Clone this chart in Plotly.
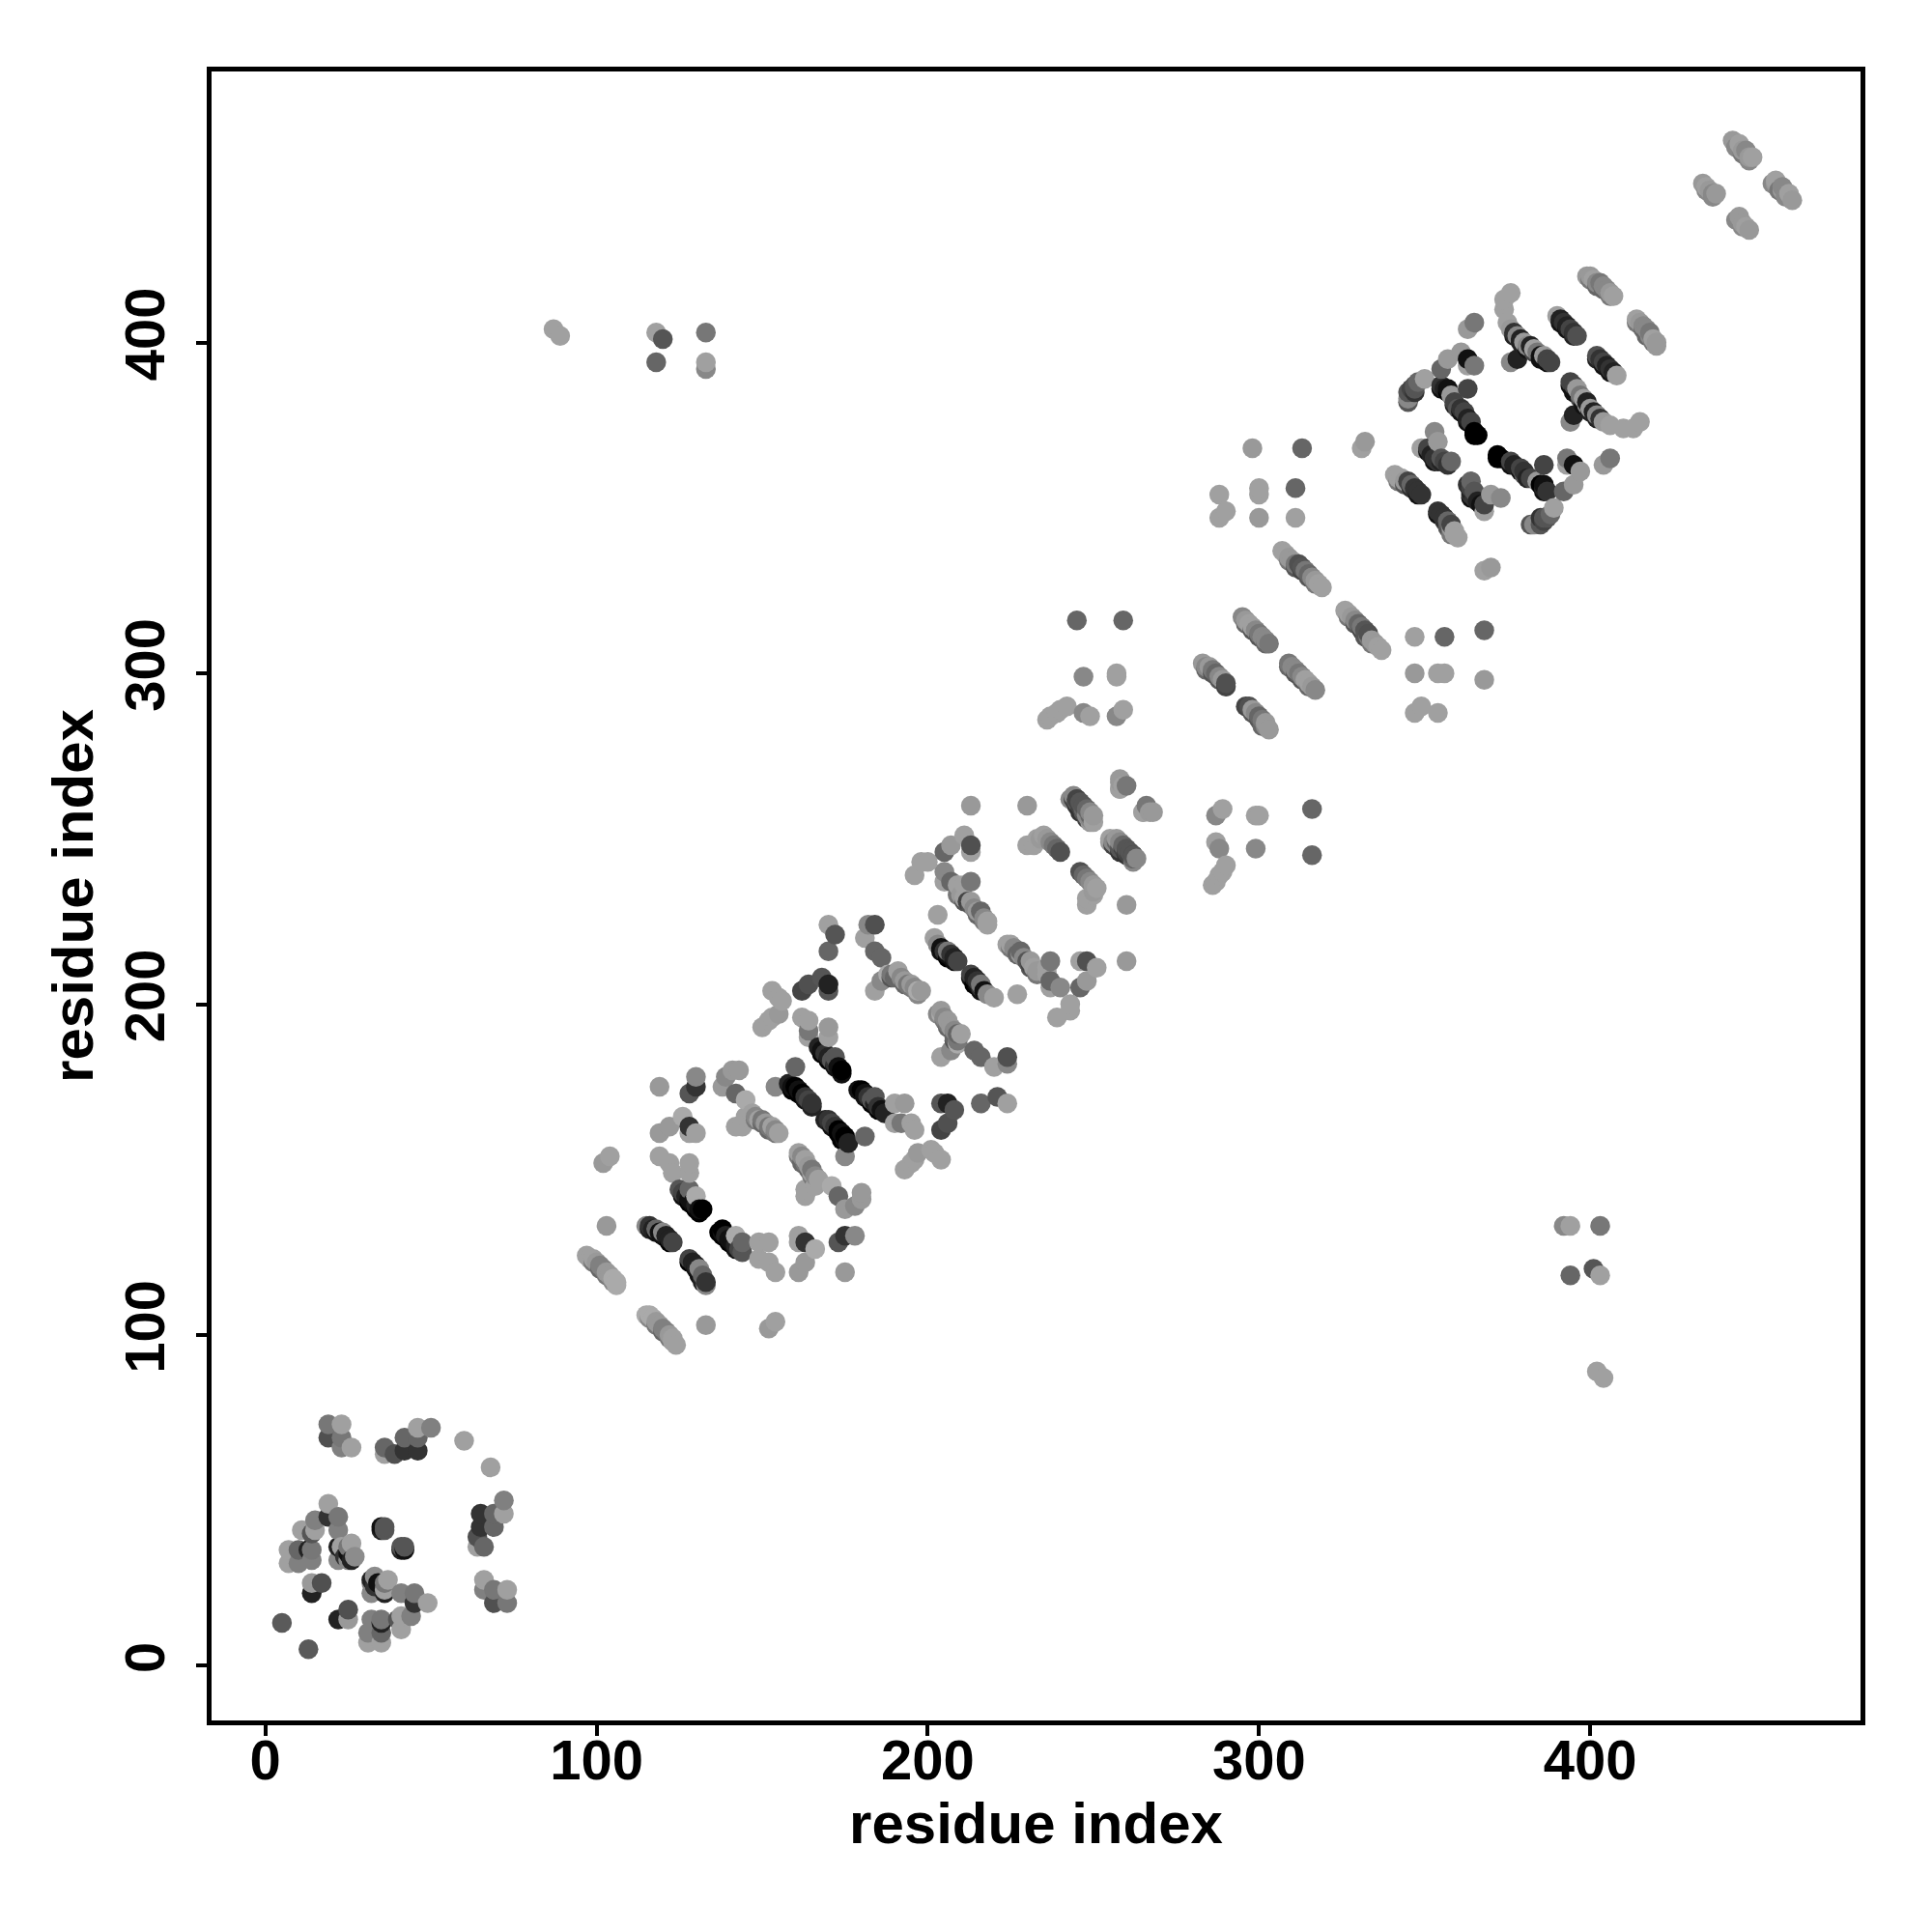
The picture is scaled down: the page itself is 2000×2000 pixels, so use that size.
import plotly.graph_objects as go

# Contact pairs (residue a < residue b), one line per contact patch; shown on both sides of the diagonal
res_a = [
 5, 19,19,23,23,23,26, 36,36,39,42,42,46,46,46,50, 60,
 19,19,22,11,15,15,14,22,35,36,35,36,
 7,7,10,10,13,14,14, 22,23,22,26,26,27,25,24, 14,17,14, 25,25,
 87,89,118,120,118,133,133,133,
 97,98,99,100,101,102,103,104,105,106,106,
 103,102,104,
 115,116,117,118,119,120,121,122,123,
 119,130,130,128,
 126,128,130,128,119,122,
 119,122,123,128,128,
 125,126,127,128,128,129,130,130,131,132,
 139,141,143,138,142,145,
 142,144,145,147,148,149,150,151,152,153,154,155,
 154,160,158,159,160,161,162,163,164,165,
 170,172,170,184,182,181,184,186,
 184,186,188,189,190,191,192,193,194,195,196,197,198,
 203,202,203,204,205,206,206,207,208,209,
 153,155,156,155,153,150,152,
 162,164,168,170,170,
 162,164,164,164,170,170,
 167,168,169,170,171,172,172,173,174,
 209,210,211,212,213,214,215,216,217,218,218,
 213,230,
 243,244,245,246,247,248,249,250,250,
 258,258,260,266,265,268,
 255,256,257,258,259,260,261,262,263,
 230,232,233,234,235,236,237,238,239,240,
 207,205,211,213,213,
 198,200,196,
 205,207,205,213,209,211,
 245,259,247,257,257,236,237,239,240,242,247,249,257,259,
 298,313,332,331,288,288,290,300,300,300,311,311,
 307,308,309,310,311,312,313,314,315,316,317,318,319,
 295,296,297,298,299,300,301,302,303,
 283,284,285,286,287,288,289,290,
 376,374,374,365,363,
 375,376,377,378,379,380,381,382,383,384,385,386,387,388,
 376,378,
 390,391,392,393,394,395,396,
 399,400,401,402,403,404,405,406,407,
 357,355,361,363,365,363,
 345,345,346,347,348,350,347,
 355,356,357,358,359,360,361,362,363,364,365,366,363,
 353,354,349,351,352,353,354,355,356,358,
 341,342,343,344,345,346,347,348,349,
 443,445,446,447,448,449,
 434,435,436,437,438,
]
res_b = [
 13, 73,69,73,69,66,66, 64,66,64,65,69,65,69,72,72, 68,
 49,45,45,41,44,41,40,41,41,41,42,42,
 35,31,35,31,35,35,32, 36,36,32,37,32,33,34,33, 25,25,22, 32,36,
 404,402,403,401,394,403,394,392,
 124,123,123,122,121,120,119,118,117,116,115,
 133,152,154,
 133,133,132,132,131,131,130,129,128,
 175,178,175,173,
 166,163,161,161,161,163,
 154,152,149,152,149,
 144,143,142,141,144,140,142,139,138,138,
 178,180,180,175,173,171,
 163,163,166,167,166,165,165,164,163,163,162,161,
 175,181,176,175,175,174,173,172,171,170,
 224,221,216,224,224,220,216,214,
 204,207,209,209,208,210,208,207,206,206,205,204,204,
 227,220,218,217,216,215,216,215,214,213,
 204,202,201,197,196,193,195,
 204,206,208,206,204,
 196,195,192,190,193,190,
 187,186,185,184,183,182,184,181,180,
 233,233,232,231,231,229,228,228,226,225,224,
 260,260,
 262,262,262,261,260,259,258,257,255,
 267,265,266,259,258,258,
 249,249,248,247,247,246,245,245,244,
 248,248,250,250,251,250,249,248,247,246,
 248,246,251,248,246,
 243,243,239,
 240,237,237,237,236,236,
 316,316,299,300,299,286,287,288,289,290,288,287,287,289,
 368,368,370,368,354,347,349,356,354,347,356,347,
 337,336,335,334,333,333,332,331,330,329,328,327,326,
 317,316,315,314,313,312,311,310,309,
 303,302,302,301,300,299,298,297,
 415,413,410,406,404,
 406,404,403,402,401,400,399,399,398,397,396,396,395,394,
 394,395,
 408,407,406,405,404,403,402,
 420,420,419,418,418,417,416,415,414,
 395,392,397,395,393,393,
 383,385,386,386,388,389,387,
 387,386,386,384,382,380,380,379,377,376,373,372,386,
 373,370,368,368,366,365,364,365,364,364,
 360,359,359,358,358,357,356,355,354,
 461,460,458,458,456,456,
 448,447,446,445,445,
]
shade = [
 90, 119,80,160,119,128,160, 160,102,80,51,102,51,102,160,128, 160,
 160,51,119,160,128,160,85,128,34,85,17,85,
 160,160,102,128,34,119,128, 34,160,136,160,34,140,17,51, 153,80,34, 136,119,
 160,160,160,85,102,119,160,136,
 160,160,160,153,128,128,153,153,170,170,170,
 153,153,160,
 136,51,34,102,17,136,34,34,68,
 153,136,51,85,
 170,51,160,160,153,153,
 160,160,160,160,160,
 85,68,34,17,102,17,170,34,17,0,
 136,153,153,153,102,170,
 160,160,160,160,136,160,119,153,119,160,136,160,
 136,102,34,17,0,17,0,51,68,51,
 160,85,102,80,136,160,102,102,
 160,136,170,119,102,160,136,153,119,153,136,170,153,
 160,160,136,17,51,17,119,51,34,68,
 160,160,160,153,160,160,160,
 68,80,85,34,85,
 160,160,119,160,153,160,
 34,17,51,34,85,51,85,17,0,
 119,153,160,68,153,136,153,102,136,160,160,
 153,153,
 136,102,85,85,85,102,136,153,160,
 153,160,119,160,160,153,
 153,136,136,85,102,68,85,68,136,
 160,160,160,153,160,153,136,119,102,80,
 153,102,160,80,160,
 160,160,160,
 136,102,160,119,160,160,
 102,102,136,160,160,160,160,160,160,160,136,160,136,160,
 153,102,153,160,160,160,160,160,160,153,102,160,
 160,160,153,153,119,80,85,119,102,136,153,160,160,
 136,153,160,160,136,119,136,136,119,
 153,136,153,119,102,136,153,80,
 160,160,160,119,153,
 160,153,51,136,34,153,136,34,160,119,17,153,68,68,
 136,34,
 160,34,51,34,68,51,80,
 153,153,160,136,119,136,136,153,160,
 153,102,153,17,119,160,
 136,85,68,85,102,160,85,
 51,34,17,153,68,85,51,68,34,68,0,0,68,
 136,153,160,68,34,51,51,85,68,102,
 160,160,160,153,68,102,51,51,51,
 153,160,153,136,153,160,
 153,160,153,136,153,
]
# Darker contacts mostly hidden underneath the streaks, showing as crescents
under_a = [116,118,120,122, 126,128,130,131, 159,161,163,165, 204,206,208, 168,170,172,174,
           245,247,249, 256,258,260,262, 99,101,103,105, 148,150,152,154, 189,191,193,195,197,
           211,213,215,217, 309,311,313,315,317, 296,298,300,302, 284,286,288,290,
           377,379,381,383,385,387, 391,393,395, 400,402,404,406, 355,357,359,361,363,365,
           351,353,355,357, 342,344,346,348, 345,347, 444,446,448, 435,437]
under_b = [132,131,130,128, 142,140,138,137, 174,173,171,169, 216,214,213, 185,183,181,179,
           261,259,257, 248,246,245,244, 122,120,118,116, 165,164,162,161, 208,209,206,205,203,
           231,230,227,225, 334,332,331,329,327, 315,313,311,309, 301,300,298,296,
           402,400,398,397,395,394, 406,404,402, 419,417,416,414, 386,385,381,379,376,372,
           367,364,364,363, 358,357,356,354, 382,385, 459,457,455, 446,444]
under_shade = [34,17,17,0, 17,0,0,0, 0,0,17,34, 17,0,17, 0,0,17,17,
               68,68,102, 68,51,51,68, 119,102,119,136, 119,102,102,119, 85,102,102,119,136,
               85,85,102,119, 119,85,68,85,119, 102,85,85,102, 102,85,85,68,
               34,34,17,68,17,17, 17,17,34, 119,102,102,119, 17,0,34,17,17,0,
               17,17,34,51, 119,85,51,17, 85,51, 136,119,136, 136,136]
tick_vals = [0, 100, 200, 300, 400]
tick_text = ["0", "100", "200", "300", "400"]
axis_label = "residue index"

assert len(res_a) == len(res_b) == len(shade), (len(res_a), len(res_b), len(shade))
assert len(under_a) == len(under_b) == len(under_shade), (len(under_a), len(under_b), len(under_shade))

all_a = res_a + under_a
all_b = res_b + under_b
all_g = shade + under_shade
rows = [(a, b, g) for a, b, g in zip(all_a, all_b, all_g)] + [(b, a, g) for a, b, g in zip(all_a, all_b, all_g)]
rows.sort(key=lambda r: (r[0], r[1]))

fig = go.Figure(go.Scatter(
    x=[r[0] for r in rows], y=[r[1] for r in rows], mode="markers",
    marker=dict(size=20.5, color=[f"rgb({r[2]},{r[2]},{r[2]})" for r in rows], line=dict(width=0)),
    hoverinfo="skip", showlegend=False))

tick_font = dict(family="Liberation Sans", size=58, color="black", weight="bold")
title_font = dict(family="Liberation Sans", size=60, color="black", weight="bold")
axis = dict(tickmode="array", tickvals=tick_vals, ticktext=tick_text, ticks="outside", ticklen=11, tickwidth=4,
            tickcolor="black", showline=True, linecolor="black", linewidth=5, mirror=True, showgrid=False,
            zeroline=False, tickfont=tick_font)
fig.update_layout(width=2000, height=2000, margin=dict(l=210.5, r=82, t=65.5, b=227), plot_bgcolor="white",
                  paper_bgcolor="white", showlegend=False)
fig.update_xaxes(range=[-16.25, 481.6], ticklabelstandoff=-25,
                 title=dict(text=axis_label, font=title_font, standoff=12), **axis)
fig.update_yaxes(range=[-16.5, 481.9], tickangle=-90, ticklabelstandoff=10,
                 title=dict(text=axis_label, font=title_font, standoff=2), **axis)
fig.write_html("out.html")
